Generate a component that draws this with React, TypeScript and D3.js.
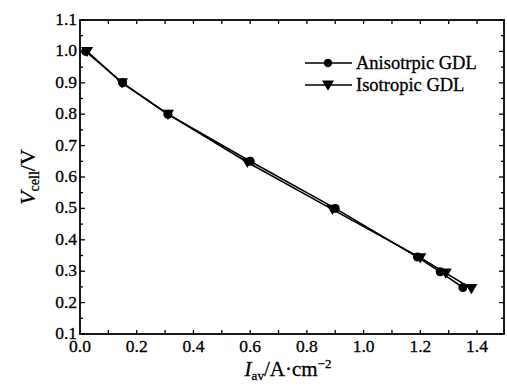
import React from "react";
import * as d3 from "d3";

const aniX = [0.02, 0.15, 0.31, 0.6, 0.9, 1.19, 1.27, 1.35];
const aniY = [1.0, 0.9, 0.8, 0.65, 0.5, 0.345, 0.298, 0.248];
const isoX = [0.025, 0.148, 0.31, 0.59, 0.89, 1.2, 1.29, 1.38];
const isoY = [1.0, 0.9, 0.8, 0.647, 0.497, 0.343, 0.294, 0.245];
const xTickLabels = [0, 0.2, 0.4, 0.6, 0.8, 1.0, 1.2, 1.4];
const yTickLabels = [0.1, 0.2, 0.3, 0.4, 0.5, 0.6, 0.7, 0.8, 0.9, 1.0, 1.1];
const seriesNames = ["Anisotrpic GDL", "Isotropic GDL"];

const W = 507, H = 386;
const L = 80, R = 504, T = 20, B = 334;
const FONT = "'Liberation Serif', 'Times New Roman', serif";

export default function App() {
  const x = d3.scaleLinear().domain([0, 1.495]).range([L, R]);
  const y = d3.scaleLinear().domain([0.1, 1.1]).range([B, T]);
  const line = d3.line<[number, number]>().x(d => x(d[0])).y(d => y(d[1]));
  const ani = aniX.map((v, i) => [v, aniY[i]] as [number, number]);
  const iso = isoX.map((v, i) => [v, isoY[i]] as [number, number]);
  const xMinor = d3.range(0.1, 1.5, 0.1);
  const yMinor = d3.range(0.15, 1.1, 0.1);
  const tri = (cx: number, cy: number, s = 6) =>
    `M${cx - s},${cy - s * 0.75}L${cx + s},${cy - s * 0.75}L${cx},${cy + s * 0.95}Z`;

  return (
    <svg width={W} height={H} style={{ position: "absolute", left: 0, top: 0, background: "#fff" }}>
      <g stroke="#000" strokeWidth={1.3}>
        {xMinor.map((v, i) => (
          <g key={"xm" + i}>
            <line x1={x(v)} x2={x(v)} y1={B} y2={B - 4} />
            <line x1={x(v)} x2={x(v)} y1={T} y2={T + 4} />
          </g>
        ))}
        {yTickLabels.map((v, i) => (
          <g key={"ym" + i}>
            <line x1={L} x2={L + 5} y1={y(v)} y2={y(v)} />
            <line x1={R} x2={R - 5} y1={y(v)} y2={y(v)} />
          </g>
        ))}
        {yMinor.map((v, i) => (
          <g key={"yn" + i}>
            <line x1={L} x2={L + 3} y1={y(v)} y2={y(v)} />
            <line x1={R} x2={R - 3} y1={y(v)} y2={y(v)} />
          </g>
        ))}
      </g>
      <rect x={L} y={T} width={R - L} height={B - T} fill="none" stroke="#000" strokeWidth={1.8} />
      <g fontFamily={FONT} fontSize={17.5} fill="#000" stroke="#000" strokeWidth={0.3}>
        {xTickLabels.map((v, i) => (
          <text key={"xl" + i} x={x(v)} y={B + 18} textAnchor="middle">{v.toFixed(1)}</text>
        ))}
        {yTickLabels.map((v, i) => (
          <text key={"yl" + i} x={L - 3} y={y(v) + 5} textAnchor="end">{v.toFixed(1)}</text>
        ))}
      </g>
      <path d={line(ani) || ""} fill="none" stroke="#000" strokeWidth={1.6} />
      <path d={line(iso) || ""} fill="none" stroke="#000" strokeWidth={1.6} />
      {ani.map((d, i) => (
        <circle key={"c" + i} cx={x(d[0])} cy={y(d[1])} r={4.5} fill="#000" />
      ))}
      {iso.map((d, i) => (
        <path key={"t" + i} d={tri(x(d[0]), y(d[1]))} fill="#000" />
      ))}
      <g fontFamily={FONT} fontSize={18.5} fill="#000">
        <line x1={305} x2={352} y1={63} y2={63} stroke="#000" strokeWidth={1.5} />
        <circle cx={328} cy={63} r={4.2} fill="#000" />
        <text x={356} y={69} stroke="#000" strokeWidth={0.3}>{seriesNames[0]}</text>
        <line x1={305} x2={352} y1={85} y2={85} stroke="#000" strokeWidth={1.5} />
        <path d={tri(328, 85, 6)} fill="#000" />
        <text x={356} y={91} stroke="#000" strokeWidth={0.3}>{seriesNames[1]}</text>
      </g>
      <text x={288} y={376} fontFamily={FONT} fontSize={21} textAnchor="middle" fill="#000" stroke="#000" strokeWidth={0.3}>
        <tspan fontStyle="italic">I</tspan>
        <tspan fontSize={13} dy={4}>av</tspan>
        <tspan dy={-4}>/A·cm</tspan>
        <tspan fontSize={13} dy={-8}>−2</tspan>
      </text>
      <text transform={`translate(35,${(T + B) / 2}) rotate(-90)`} fontFamily={FONT} fontSize={22} textAnchor="middle" fill="#000" stroke="#000" strokeWidth={0.3}>
        <tspan fontStyle="italic">V</tspan>
        <tspan fontSize={14} dy={4}>cell</tspan>
        <tspan dy={-4}>/V</tspan>
      </text>
    </svg>
  );
}
